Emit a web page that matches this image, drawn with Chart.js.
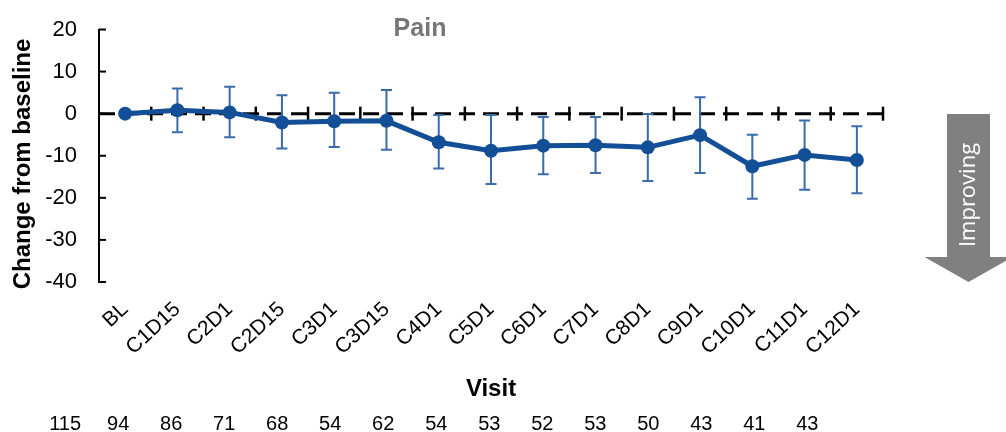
<!DOCTYPE html>
<html>
<head>
<meta charset="utf-8">
<title>Pain – change from baseline by visit</title>
<script src="https://cdn.jsdelivr.net/npm/chart.js@4.4.1/dist/chart.umd.min.js"></script>
<style>
  html, body { margin: 0; padding: 0; background: #ffffff; }
  #wrap { width: 1006px; height: 432px; position: relative; }
</style>
</head>
<body>
<div id="wrap"><canvas id="painChart" width="1006" height="432"></canvas></div>
<script>
// Visits on the x axis
const visits = ['BL', 'C1D15', 'C2D1', 'C2D15', 'C3D1', 'C3D15', 'C4D1', 'C5D1',
                'C6D1', 'C7D1', 'C8D1', 'C9D1', 'C10D1', 'C11D1', 'C12D1'];

// Mean change from baseline in pain score
const meanChange = [0, 0.8, 0.3, -2.1, -1.8, -1.7, -6.8, -8.8,
                    -7.6, -7.5, -8.0, -5.1, -12.5, -9.8, -11.0];

// Error bar limits (no bar at baseline)
const upperLimit = [null, 6.0, 6.4, 4.4, 5.0, 5.6, -0.3, -0.3,
                    -0.8, -0.8, -0.1, 3.9, -5.0, -1.6, -3.0];
const lowerLimit = [null, -4.4, -5.6, -8.3, -7.9, -8.6, -13.0, -16.7,
                    -14.4, -14.1, -16.0, -14.1, -20.2, -18.1, -18.9];

// Number of patients row printed under the axis
const patientCounts = ['115', '94', '86', '71', '68', '54', '62', '54',
                       '53', '52', '53', '50', '43', '41', '43'];

// Y axis range and tick step
const yMin = -40;
const yMax = 20;
const yStep = 10;

const FONT = '"Liberation Sans", Arial, Helvetica, sans-serif';
const LINE_BLUE = '#134f97';
const ERR_BLUE = '#3a6bab';

const decorations = {
  id: 'decorations',
  beforeDatasetsDraw(chart) {
    const { ctx, chartArea, scales: { x, y } } = chart;
    const y0 = y.getPixelForValue(0);
    ctx.save();

    // dashed zero reference line
    ctx.strokeStyle = '#000';
    ctx.lineWidth = 3;
    ctx.setLineDash([16, 8]);
    ctx.beginPath();
    ctx.moveTo(chartArea.left, y0);
    ctx.lineTo(chartArea.right, y0);
    ctx.stroke();
    ctx.setLineDash([]);

    // category separator ticks crossing the zero line
    ctx.lineWidth = 2.5;
    const step = x.getPixelForValue(1) - x.getPixelForValue(0);
    for (let i = 0; i < visits.length; i++) {
      const bx = x.getPixelForValue(i) + step / 2;
      ctx.beginPath();
      ctx.moveTo(bx, y0 - 7);
      ctx.lineTo(bx, y0 + 7);
      ctx.stroke();
    }

    // inward ticks on the y axis
    ctx.lineWidth = 2;
    y.ticks.forEach(t => {
      const py = y.getPixelForValue(t.value);
      ctx.beginPath();
      ctx.moveTo(chartArea.left, py);
      ctx.lineTo(chartArea.left + 7, py);
      ctx.stroke();
    });

    // error bars
    ctx.strokeStyle = ERR_BLUE;
    ctx.lineWidth = 2;
    for (let i = 0; i < visits.length; i++) {
      if (upperLimit[i] == null) continue;
      const px = x.getPixelForValue(i);
      const pt = y.getPixelForValue(upperLimit[i]);
      const pb = y.getPixelForValue(lowerLimit[i]);
      ctx.beginPath();
      ctx.moveTo(px, pt); ctx.lineTo(px, pb);
      ctx.moveTo(px - 5.5, pt); ctx.lineTo(px + 5.5, pt);
      ctx.moveTo(px - 5.5, pb); ctx.lineTo(px + 5.5, pb);
      ctx.stroke();
    }
    ctx.restore();
  },
  afterDraw(chart) {
    const { ctx, chartArea, scales: { x } } = chart;
    ctx.save();

    // panel title
    ctx.fillStyle = '#767676';
    ctx.font = 'bold 25px ' + FONT;
    ctx.textAlign = 'center';
    ctx.textBaseline = 'alphabetic';
    ctx.fillText('Pain', chartArea.left + 321, 36);

    // y axis title
    ctx.save();
    ctx.translate(23, 164);
    ctx.rotate(-Math.PI / 2);
    ctx.fillStyle = '#000';
    ctx.font = 'bold 24px ' + FONT;
    ctx.textAlign = 'center';
    ctx.textBaseline = 'middle';
    ctx.fillText('Change from baseline', 0, 0);
    ctx.restore();

    // patient counts row
    ctx.fillStyle = '#000';
    ctx.font = '20px ' + FONT;
    ctx.textAlign = 'center';
    ctx.textBaseline = 'alphabetic';
    patientCounts.forEach((n, i) => {
      const px = x.getPixelForValue(i) - 60 + i * 0.75;
      ctx.fillText(n, px, 430);
    });

    // "Improving" arrow at the right
    const ax = chartArea.right + 85.5;
    ctx.fillStyle = '#808080';
    ctx.beginPath();
    ctx.moveTo(ax - 21.5, 114);
    ctx.lineTo(ax + 21.5, 114);
    ctx.lineTo(ax + 21.5, 257);
    ctx.lineTo(ax + 44, 257);
    ctx.lineTo(ax, 282);
    ctx.lineTo(ax - 44, 257);
    ctx.lineTo(ax - 21.5, 257);
    ctx.closePath();
    ctx.fill();

    ctx.translate(ax, 195);
    ctx.rotate(-Math.PI / 2);
    ctx.fillStyle = '#ffffff';
    ctx.font = '22px "Open Sans", "Noto Sans", sans-serif';
    ctx.textAlign = 'center';
    ctx.textBaseline = 'middle';
    ctx.fillText('Improving', 0, 0);
    ctx.restore();
  }
};

new Chart(document.getElementById('painChart'), {
  type: 'line',
  data: {
    labels: visits,
    datasets: [{
      data: meanChange,
      borderColor: LINE_BLUE,
      backgroundColor: LINE_BLUE,
      borderWidth: 5,
      pointRadius: 7,
      pointBackgroundColor: LINE_BLUE,
      pointBorderWidth: 0,
      tension: 0
    }]
  },
  options: {
    responsive: false,
    animation: false,
    devicePixelRatio: 1,
    layout: { padding: { left: 0, right: 123, top: 29.5, bottom: 0 } },
    plugins: {
      legend: { display: false },
      tooltip: { enabled: false },
      title: { display: false }
    },
    scales: {
      x: {
        type: 'category',
        offset: true,
        grid: { display: false },
        border: { display: false },
        ticks: {
          autoSkip: false,
          maxRotation: 43,
          minRotation: 43,
          padding: 7,
          color: '#000',
          font: { family: FONT, size: 21 }
        },
        title: {
          display: true,
          text: 'Visit',
          color: '#000',
          font: { family: FONT, size: 24, weight: 'bold' },
          padding: { top: 0, bottom: 28.6 }
        },
        afterFit(scale) { scale.height = 150; }
      },
      y: {
        min: yMin,
        max: yMax,
        ticks: {
          stepSize: yStep,
          padding: 2,
          color: '#000',
          font: { family: FONT, size: 22 }
        },
        // tick marks kept invisible; they only space the labels from the axis
        grid: {
          display: true,
          drawOnChartArea: false,
          drawTicks: true,
          tickLength: 20,
          color: 'rgba(0,0,0,0)'
        },
        border: { display: true, color: '#000', width: 2 },
        afterFit(scale) { scale.width = 99; }
      }
    }
  },
  plugins: [decorations]
});
</script>
</body>
</html>
